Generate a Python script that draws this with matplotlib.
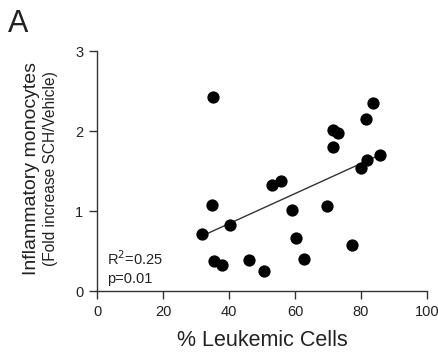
import numpy as np
import matplotlib
matplotlib.use("Agg")
import matplotlib.pyplot as plt

plt.rcParams['font.family'] = ['Liberation Sans', 'DejaVu Sans']

# % leukemic cells vs fold increase of inflammatory monocytes
leukemic_pct = [35.0, 83.7, 81.5, 71.4, 72.9, 71.4, 85.8, 81.7, 80.0, 53.1, 55.6, 34.9,
                69.8, 59.1, 40.2, 31.8, 60.3, 77.4, 35.3, 37.9, 46.2, 62.6, 50.5]
fold_increase = [2.42, 2.35, 2.15, 2.01, 1.98, 1.80, 1.70, 1.64, 1.54, 1.33, 1.37, 1.07,
                 1.06, 1.01, 0.83, 0.71, 0.66, 0.57, 0.38, 0.32, 0.39, 0.40, 0.25]

# regression line
fit_slope = 0.0188
fit_intercept = 0.09
stats_text = ["R$^2$=0.25", "p=0.01"]

x_ticks = [0, 20, 40, 60, 80, 100]
y_ticks = [0, 1, 2, 3]

fig = plt.figure(figsize=(4.38, 3.63), dpi=100)
ax = fig.add_axes([0.2215, 0.1983, 0.7535, 0.6612])

ax.scatter(leukemic_pct, fold_increase, s=78, color='black', zorder=3, linewidths=0)
xs = np.array([min(leukemic_pct), max(leukemic_pct)])
ax.plot(xs, fit_slope * xs + fit_intercept, color='#333333', lw=1.0, zorder=2)

ax.text(3, 0.33, stats_text[0], fontsize=10.5, color='#222222')
ax.text(3, 0.10, stats_text[1], fontsize=10.5, color='#222222')

ax.set_xlim(0, 100)
ax.set_ylim(0, 3)
ax.set_xticks(x_ticks)
ax.set_yticks(y_ticks)
for side in ['top', 'right']:
    ax.spines[side].set_visible(False)
for side in ['left', 'bottom']:
    ax.spines[side].set_color('#333333')
    ax.spines[side].set_linewidth(1.0)
ax.tick_params(direction='out', length=6, width=1.0, color='#333333',
               labelsize=10.5, labelcolor='#222222', pad=4)

ax.set_xlabel('% Leukemic Cells', fontsize=15.5, color='#222222', labelpad=8)

fig.text(0.072, 0.537, 'Inflammatory monocytes', rotation=90, fontsize=14,
         color='#222222', ha='center', va='center')
fig.text(0.116, 0.537, '(Fold increase SCH/Vehicle)', rotation=90, fontsize=11.2,
         color='#222222', ha='center', va='center')

fig.text(0.018, 0.975, 'A', fontsize=22, color='#222222', ha='left', va='top')

fig.savefig('out.png', dpi=100)
